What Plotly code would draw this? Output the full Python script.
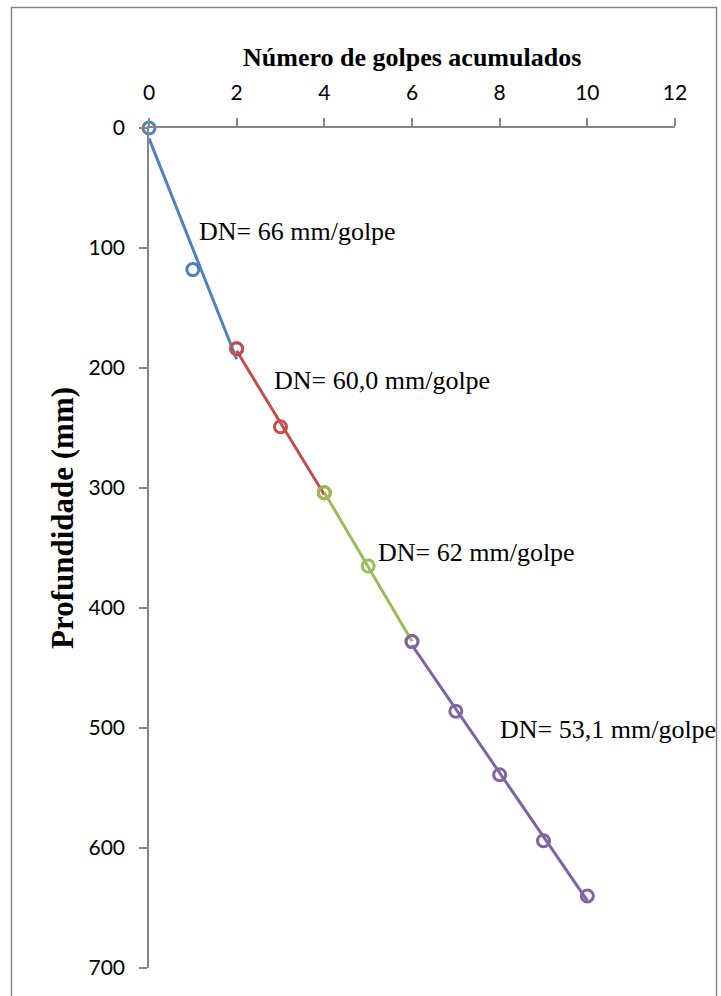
import numpy as np
import plotly.graph_objects as go

# Ensaio DCP: profundidade acumulada por número de golpes
golpes = [0, 1, 2, 3, 4, 5, 6, 7, 8, 9, 10]
profundidade = [0, 118, 184, 249, 304, 365, 428, 486, 539, 594, 640]

# Camadas (índices inicial e final dos golpes) e respetivo índice DN
camada_inicio = [0, 2, 4, 6]
camada_fim = [2, 4, 6, 10]
camada_rotulo = ["DN= 66 mm/golpe", "DN= 60,0 mm/golpe",
                 "DN= 62 mm/golpe", "DN= 53,1 mm/golpe"]

cores = ["#4F81BD", "#C0504D", "#9BBB59", "#8064A2"]
rotulo_pos = [(1.09, 86), (2.80, 210), (5.18, 354), (7.97, 501)]

fig = go.Figure()

for i0, i1, cor in zip(camada_inicio, camada_fim, cores):
    xs = np.array(golpes[i0:i1 + 1], dtype=float)
    ys = np.array(profundidade[i0:i1 + 1], dtype=float)
    # pontos medidos
    fig.add_trace(go.Scatter(
        x=xs, y=ys, mode="markers", cliponaxis=False,
        marker=dict(symbol="circle-open", size=12, color=cor,
                    line=dict(width=3, color=cor)),
        showlegend=False, hoverinfo="x+y",
    ))
    # linha de tendência linear da camada
    a, b = np.polyfit(xs, ys, 1)
    xt = np.array([xs[0], xs[-1]])
    fig.add_trace(go.Scatter(
        x=xt, y=a * xt + b, mode="lines", cliponaxis=False,
        line=dict(color=cor, width=3),
        showlegend=False, hoverinfo="skip",
    ))

for texto, (px, py) in zip(camada_rotulo, rotulo_pos):
    fig.add_annotation(
        x=px, y=py, xref="x", yref="y", text=texto, showarrow=False,
        xanchor="left", yanchor="middle",
        font=dict(family="Liberation Serif", size=26, color="#000000"),
    )

W, H = 721, 996
ML, MR, MT, MB = 149, 46, 128, 28
pw, ph = W - ML - MR, H - MT - MB


def px_to_paper(px, py):
    return (px - ML) / pw, 1 - (py - MT) / ph


# títulos dos eixos
tx, ty = px_to_paper(412, 57)
fig.add_annotation(
    x=tx, y=ty, xref="paper", yref="paper", showarrow=False,
    text="<b>Número de golpes acumulados</b>",
    xanchor="center", yanchor="middle",
    font=dict(family="Liberation Serif", size=26, color="#000000"),
)
yx, yy = px_to_paper(62, 518)
fig.add_annotation(
    x=yx, y=yy, xref="paper", yref="paper", showarrow=False,
    text="<b>Profundidade (mm)</b>", textangle=-90,
    xanchor="center", yanchor="middle",
    font=dict(family="Liberation Serif", size=31, color="#000000"),
)

# moldura da área do gráfico
x0, y0 = px_to_paper(11.5, 7.5)
x1, y1 = px_to_paper(716.5, 1010)
fig.add_shape(type="rect", xref="paper", yref="paper",
              x0=x0, y0=y1, x1=x1, y1=y0,
              line=dict(color="#868686", width=1.5), layer="below")

eixo = dict(
    showline=True, linecolor="#868686", linewidth=1.5,
    ticks="outside", ticklen=8, tickwidth=1.5, tickcolor="#868686",
    showgrid=False, zeroline=False,
    tickfont=dict(family="Lato", size=21, color="#000000"),
    ticklabelstandoff=10,
)

fig.update_xaxes(side="top", range=[0, 12], tickmode="linear", tick0=0, dtick=2, **eixo)
fig.update_yaxes(range=[700, 0], tickmode="linear", tick0=0, dtick=100, **eixo)

fig.update_layout(
    width=W, height=H,
    margin=dict(l=ML, r=MR, t=MT, b=MB),
    paper_bgcolor="white", plot_bgcolor="white",
)

fig.write_html("out.html")
